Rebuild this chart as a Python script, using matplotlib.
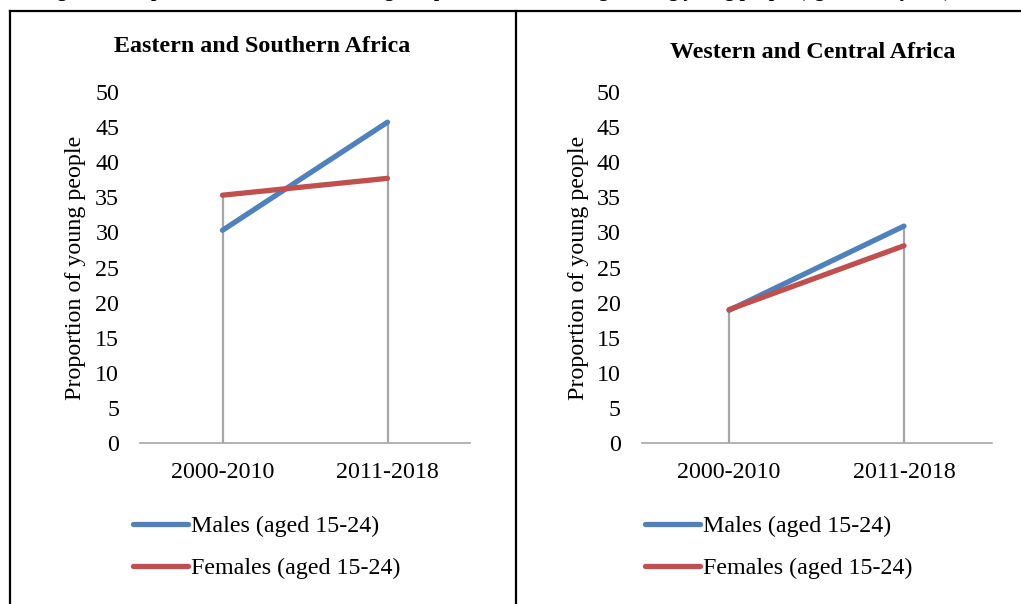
import matplotlib
matplotlib.use("Agg")
import matplotlib.pyplot as plt
from matplotlib.lines import Line2D

plt.rcParams['font.family'] = ['Liberation Serif', 'DejaVu Serif']

# data
periods = ["2000-2010", "2011-2018"]
regions = ["Eastern and Southern Africa", "Western and Central Africa"]
males = [[30.3, 45.7], [18.9, 30.9]]
females = [[35.3, 37.7], [19.0, 28.1]]
series_names = ["Males (aged 15-24)", "Females (aged 15-24)"]

blue = "#4F81BD"
red = "#C0504D"
grey = "#A6A6A6"

W, H = 1021, 604
fig = plt.figure(figsize=(W / 100, H / 100), dpi=100)

def fx(px):
    return px / W

def fy(py):
    return 1 - py / H

# caption of the page, cut off by the top edge in the original
fig.text(fx(40), fy(-3.5), "Figure 3: Proportion of adolescents having comprehensive knowledge among young people (aged 15-24 years), 2000-2018",
         fontsize=14, fontweight='bold', va='baseline', ha='left')

# panel borders
fig.add_artist(Line2D([fx(10), 1], [fy(11), fy(11)], color='black', lw=1.6))
for xb in [10, 516]:
    fig.add_artist(Line2D([fx(xb), fx(xb)], [fy(11), 0], color='black', lw=1.6))

fs = 17.3
boxes = [(140, 330), (641.5, 350)]
title_x = [262, 813]
title_y = [46, 52]
ylab_x = [86, 589]
leg_x = [123, 635]

for i, reg in enumerate(regions):
    x0, w = boxes[i]
    ax = fig.add_axes([fx(x0), fy(443), fx(w), 351 / H])
    xs = [0, 1]
    tops = [max(m, f) for m, f in zip(males[i], females[i])]
    ax.vlines(xs, 0, tops, color=grey, lw=1.6, zorder=1)
    ax.plot(xs, males[i], color=blue, lw=3.8, solid_capstyle='round', label=series_names[0], zorder=3)
    ax.plot(xs, females[i], color=red, lw=3.8, solid_capstyle='round', label=series_names[1], zorder=3)
    ax.set_xlim(-0.5, 1.5)
    ax.set_ylim(0, 50)
    ax.set_yticks(range(0, 51, 5))
    ax.set_xticks(xs)
    ax.set_xticklabels(periods)
    ax.tick_params(axis='both', length=0, labelsize=fs)
    ax.tick_params(axis='y', pad=15)
    ax.tick_params(axis='x', pad=14)
    for s in ['top', 'right', 'left']:
        ax.spines[s].set_visible(False)
    ax.spines['bottom'].set_color(grey)
    ax.spines['bottom'].set_linewidth(1.2)
    ax.set_ylabel("Proportion of young people", fontsize=fs)
    ax.yaxis.set_label_coords((ylab_x[i] - x0) / w, 0.5)
    fig.text(fx(title_x[i]), fy(title_y[i]), reg, fontsize=fs,
             fontweight='bold', ha='center', va='center')
    ax.legend(loc='upper left', bbox_to_anchor=(fx(leg_x[i]), fy(506)),
              bbox_transform=fig.transFigure, frameon=False, fontsize=fs,
              handlelength=2.3, handletextpad=0.15, labelspacing=0.83,
              borderaxespad=0)

fig.savefig("out.png", dpi=100)
